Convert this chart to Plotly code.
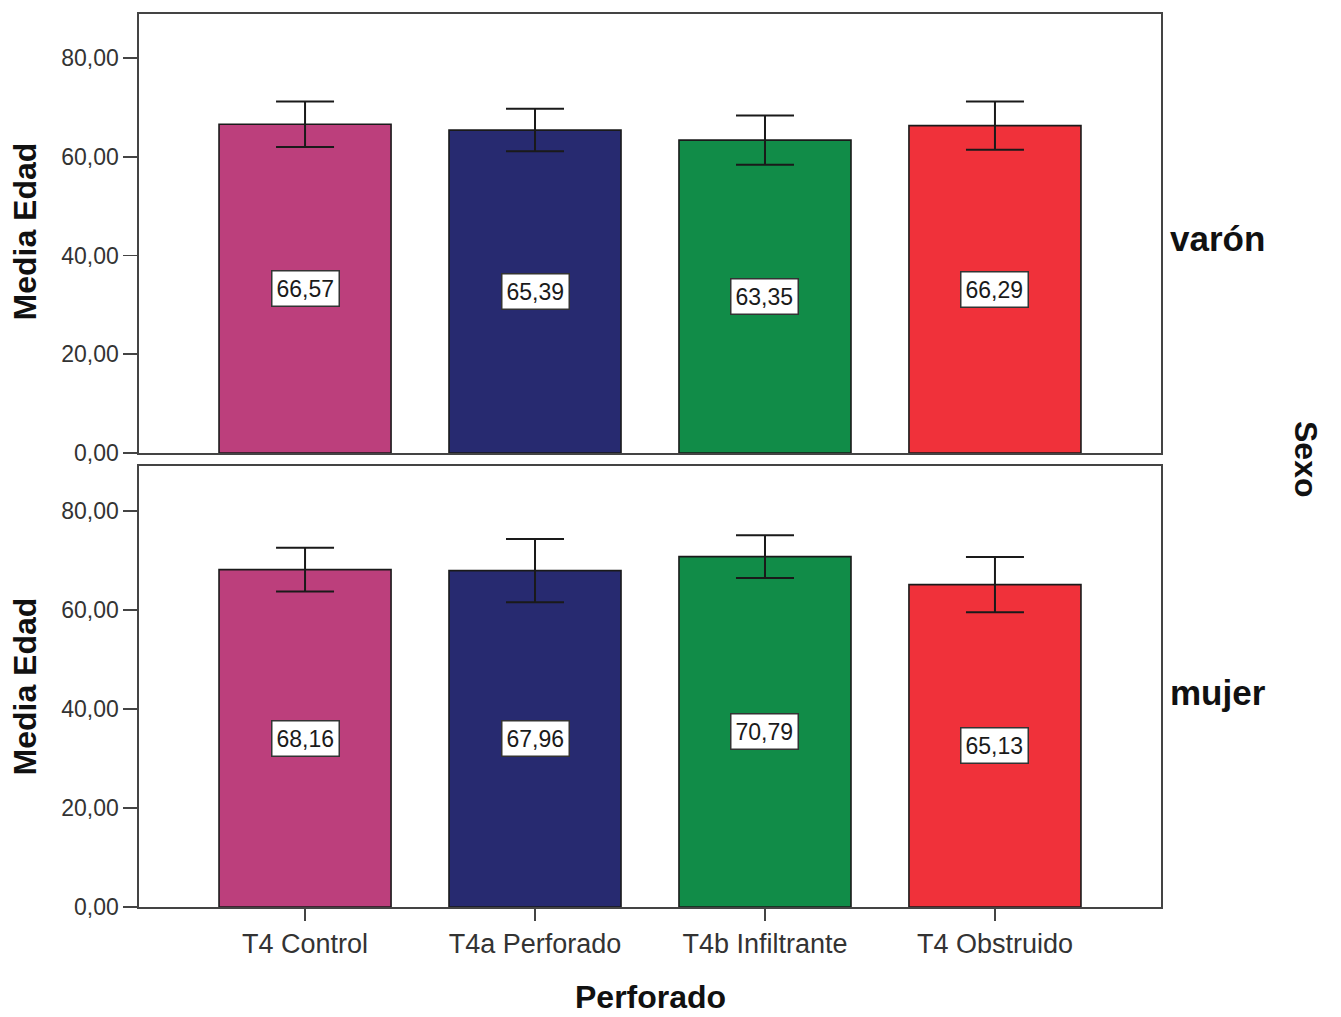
import plotly.graph_objects as go

categories = ["T4 Control", "T4a Perforado", "T4b Infiltrante", "T4 Obstruido"]
colors = ["#BC3F7C", "#272A70", "#118C48", "#F0313A"]

varon_means = [66.57, 65.39, 63.35, 66.29]
varon_err = [4.6, 4.3, 5.0, 4.9]

mujer_means = [68.16, 67.96, 70.79, 65.13]
mujer_err = [4.4, 6.4, 4.3, 5.6]

panels = ["varón", "mujer"]
y_ticks = [0, 20, 40, 60, 80]

FONT = "Liberation Sans, Arial, sans-serif"

W, H = 1341, 1017
L, R, T, B = 139, 180, 12, 110
PW = W - L - R
PH = H - T - B

fig = go.Figure()

series = [(varon_means, varon_err, "x", "y"), (mujer_means, mujer_err, "x2", "y2")]
for means, errs, xa, ya in series:
    fig.add_trace(go.Bar(
        x=categories, y=means, xaxis=xa, yaxis=ya,
        width=0.748,
        marker=dict(color=colors, line=dict(color="#1a1a1a", width=1.6)),
        error_y=dict(type="data", array=errs, visible=True, color="#1a1a1a",
                     thickness=2, width=29),
        showlegend=False, hoverinfo="skip",
    ))
    for c, m in zip(categories, means):
        fig.add_annotation(
            x=c, y=m / 2, xref=xa, yref=ya,
            text=f"{m:.2f}".replace(".", ","),
            showarrow=False, bgcolor="white", bordercolor="#333333",
            borderwidth=1.5, borderpad=4,
            font=dict(family=FONT, size=23, color="#1a1a1a"),
        )

axis_common = dict(showline=True, linecolor="#444444", linewidth=1.6, mirror=True)
ytick_common = dict(tickvals=y_ticks, tickformat=".2f", ticks="outside", ticklen=14,
                    tickcolor="#444444", tickwidth=1.6, showgrid=False,
                    tickfont=dict(size=23, family=FONT, color="#333333"))

fig.update_layout(
    width=W, height=H,
    margin=dict(l=L, r=R, t=T, b=B, pad=0),
    plot_bgcolor="white", paper_bgcolor="white",
    separators=",.",
    font=dict(family=FONT, color="#333333"),
    bargap=0,
    xaxis=dict(domain=[0, 1], anchor="y", range=[-0.722, 3.722],
               showticklabels=False, ticks="", matches="x2", **axis_common),
    yaxis=dict(domain=[(H - B - 452) / PH, 1.0], anchor="x", range=[0, 88.9],
               **ytick_common, **axis_common),
    xaxis2=dict(domain=[0, 1], anchor="y2", range=[-0.722, 3.722],
                ticks="outside", ticklen=12, tickcolor="#444444", tickwidth=1.6,
                tickfont=dict(size=27, family=FONT, color="#333333"), **axis_common),
    yaxis2=dict(domain=[0, (H - B - 465) / PH], anchor="x2", range=[0, 89.1],
                **ytick_common, **axis_common),
)

def px_x(px):  # page px -> paper x
    return (px - L) / PW

def px_y(py):  # page px -> paper y
    return (H - B - py) / PH

# axis titles
for ycen in [px_y(230), px_y(686)]:
    fig.add_annotation(x=px_x(25), y=ycen, xref="paper", yref="paper",
                       text="<b>Media Edad</b>", textangle=-90, showarrow=False,
                       xanchor="center", yanchor="middle",
                       font=dict(family=FONT, size=32, color="#111111"))

fig.add_annotation(x=px_x(650), y=px_y(997), xref="paper", yref="paper",
                   text="<b>Perforado</b>", showarrow=False,
                   xanchor="center", yanchor="middle",
                   font=dict(family=FONT, size=32, color="#111111"))

# panel labels
for name, ycen in zip(panels, [px_y(237), px_y(692)]):
    fig.add_annotation(x=px_x(1168), y=ycen, xref="paper", yref="paper",
                       text=f"<b>{name}</b>", showarrow=False,
                       xanchor="left", yanchor="middle",
                       font=dict(family=FONT, size=35, color="#111111"))

fig.add_annotation(x=px_x(1306), y=px_y(458), xref="paper", yref="paper",
                   text="<b>Sexo</b>", textangle=90, showarrow=False,
                   xanchor="center", yanchor="middle",
                   font=dict(family=FONT, size=32, color="#111111"))

fig.write_html(
    "out.html",
    config={"displayModeBar": False, "staticPlot": True},
    post_script="document.body.style.margin='0';document.documentElement.style.overflow='hidden';",
)
